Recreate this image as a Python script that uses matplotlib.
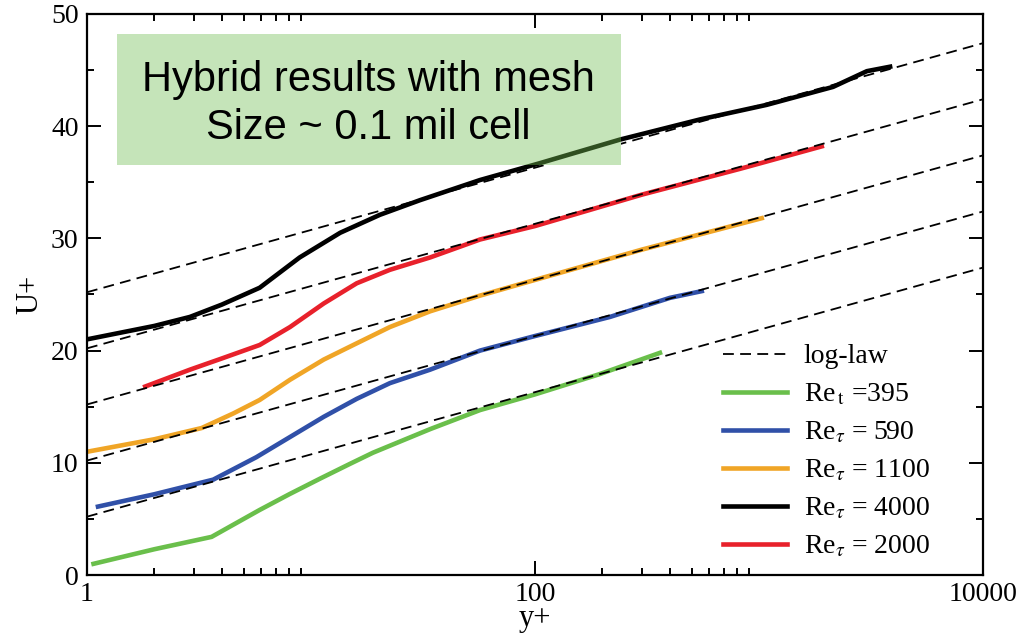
import matplotlib
matplotlib.use("Agg")
import matplotlib.pyplot as plt
from matplotlib.patches import Rectangle
from matplotlib.ticker import FixedLocator, NullFormatter

plt.rcParams['font.family'] = ['Liberation Serif', 'DejaVu Serif']
plt.rcParams['mathtext.fontset'] = 'stix'

# log-law reference lines (straight on log axis), end values
loglaw_x = [1, 10000]
loglaw_u = [[5.2, 27.4], [10.2, 32.4], [15.2, 37.4], [20.2, 42.4], [25.2, 47.4]]

# Re_tau = 395
x395 = [1.07, 2.0, 3.6, 5.9, 8.0, 11, 14.9, 18.9, 34, 56.8, 100, 194, 361]
u395 = [1.0, 2.3, 3.4, 5.8, 7.2, 8.6, 9.9, 10.9, 13.0, 14.7, 16.1, 17.9, 19.8]
# Re_tau = 590
x590 = [1.12, 2.0, 3.66, 5.7, 8.06, 11.4, 16, 22.5, 34, 56.8, 100, 216, 400, 555]
u590 = [6.1, 7.2, 8.5, 10.5, 12.3, 14.1, 15.7, 17.1, 18.3, 20.0, 21.3, 23.0, 24.7, 25.3]
# Re_tau = 1100
x1100 = [1.01, 2.0, 3.25, 4.5, 5.9, 8.06, 11.4, 16, 22.5, 34, 56.8, 100, 300, 1028]
u1100 = [11.0, 12.1, 13.1, 14.4, 15.6, 17.4, 19.2, 20.65, 22.1, 23.5, 24.9, 26.3, 29.0, 31.8]
# Re_tau = 4000
x4000 = [1.0, 2.0, 2.88, 4.0, 5.9, 8.9, 13.5, 20.3, 30.6, 56.8, 105, 239, 545, 1082, 2140, 3027, 3845]
u4000 = [21.0, 22.2, 23.0, 24.1, 25.6, 28.3, 30.5, 32.1, 33.4, 35.2, 36.7, 38.8, 40.6, 41.9, 43.5, 44.9, 45.3]
# Re_tau = 2000
x2000 = [1.82, 2.88, 4.0, 5.9, 8.06, 11.4, 16, 22.5, 34, 56.8, 100, 300, 823, 1905]
u2000 = [16.8, 18.3, 19.3, 20.5, 22.1, 24.2, 26.0, 27.2, 28.3, 29.9, 31.1, 33.9, 36.2, 38.2]

fig = plt.figure(figsize=(10.23, 6.34), dpi=100)
ax = fig.add_axes([0.085, 0.093, 0.876, 0.885])

lw = 3.3
ax.plot(x395, u395, color='#6abf4b', lw=lw, label=r'Re$_{\,\mathrm{t}}$ =395', zorder=2)
ax.plot(x590, u590, color='#3050a8', lw=lw, label=r'Re$_\tau$ = 590', zorder=2)
ax.plot(x1100, u1100, color='#f0a526', lw=lw, label=r'Re$_\tau$ = 1100', zorder=2)
ax.plot(x4000, u4000, color='black', lw=lw, label=r'Re$_\tau$ = 4000', zorder=2)
ax.plot(x2000, u2000, color='#e8212b', lw=lw, label=r'Re$_\tau$ = 2000', zorder=2)
for i, u in enumerate(loglaw_u):
    ax.plot(loglaw_x, u, color='black', lw=1.3, dashes=(6, 3.5), zorder=3,
            label='log-law' if i == 0 else None)

ax.set_xscale('log')
ax.set_xlim(1, 10000)
ax.set_ylim(0, 50)
ax.xaxis.set_major_locator(FixedLocator([1, 100, 10000]))
ax.xaxis.set_minor_locator(FixedLocator([2, 3, 4, 5, 6, 7, 8, 9,
                                         200, 300, 400, 500, 600, 700, 800, 900]))
ax.xaxis.set_minor_formatter(NullFormatter())
ax.set_xticklabels(['1', '100', '10000'])
ax.set_yticks([0, 10, 20, 30, 40, 50])
ax.set_yticks([5, 15, 25, 35, 45], minor=True)
ax.tick_params(which='both', direction='in', top=True, right=True, width=1.4)
ax.tick_params(which='major', length=10, labelsize=20)
ax.tick_params(which='minor', length=5)
ax.tick_params(axis='x', pad=5)
ax.tick_params(axis='y', pad=6)
for s in ax.spines.values():
    s.set_linewidth(1.6)

ax.set_xlabel('y+', fontsize=22, labelpad=-2)
ax.set_ylabel('U+', fontsize=22, labelpad=5)

# green annotation box, drawn over the curves
box = Rectangle((0.033, 0.73), 0.5625, 0.235, transform=ax.transAxes,
                facecolor='#c5e4b9', edgecolor='none', zorder=5)
ax.add_patch(box)
shade, = ax.plot(x4000, u4000, color='#2f4f20', lw=lw, zorder=6)
shade.set_clip_path(box)
ax.text(0.314, 0.839, 'Hybrid results with mesh\nSize ~ 0.1 mil cell',
        transform=ax.transAxes, ha='center', va='center', fontsize=30,
        family=['Liberation Sans', 'DejaVu Sans'], linespacing=1.25, zorder=7)

handles, labels = ax.get_legend_handles_labels()
order = [5, 0, 1, 2, 3, 4]
ax.legend([handles[i] for i in order], [labels[i] for i in order],
          loc='upper left', bbox_to_anchor=(0.71, 0.412), frameon=False,
          fontsize=20, handlelength=2.3, handletextpad=0.6,
          labelspacing=0.45, borderpad=0, borderaxespad=0)

fig.savefig('out.png', dpi=100)
